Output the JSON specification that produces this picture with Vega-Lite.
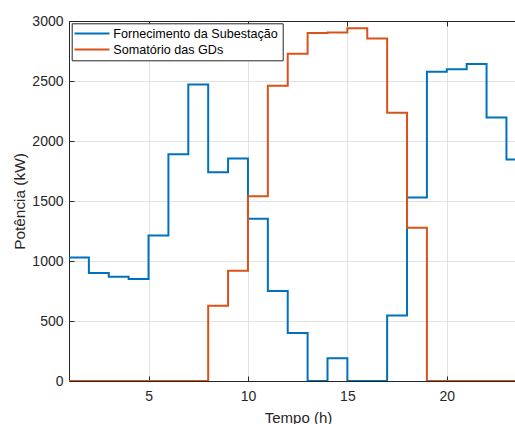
{
  "$schema": "https://vega.github.io/schema/vega-lite/v6.json",
  "width": 446,
  "height": 360,
  "autosize": {"type": "none"},
  "padding": {"left": 69, "top": 21, "right": 0, "bottom": 43},
  "background": "white",
  "config": {"font": "Liberation Sans", "view": {"stroke": null}},
  "data": {
    "values": [
      {"hora": 1, "serie": "Fornecimento da Subestação", "potencia": 1030},
      {"hora": 2, "serie": "Fornecimento da Subestação", "potencia": 900},
      {"hora": 3, "serie": "Fornecimento da Subestação", "potencia": 868},
      {"hora": 4, "serie": "Fornecimento da Subestação", "potencia": 850},
      {"hora": 5, "serie": "Fornecimento da Subestação", "potencia": 1213},
      {"hora": 6, "serie": "Fornecimento da Subestação", "potencia": 1890},
      {"hora": 7, "serie": "Fornecimento da Subestação", "potencia": 2470},
      {"hora": 8, "serie": "Fornecimento da Subestação", "potencia": 1740},
      {"hora": 9, "serie": "Fornecimento da Subestação", "potencia": 1855},
      {"hora": 10, "serie": "Fornecimento da Subestação", "potencia": 1352},
      {"hora": 11, "serie": "Fornecimento da Subestação", "potencia": 750},
      {"hora": 12, "serie": "Fornecimento da Subestação", "potencia": 400},
      {"hora": 13, "serie": "Fornecimento da Subestação", "potencia": 0},
      {"hora": 14, "serie": "Fornecimento da Subestação", "potencia": 190},
      {"hora": 15, "serie": "Fornecimento da Subestação", "potencia": 0},
      {"hora": 16, "serie": "Fornecimento da Subestação", "potencia": 0},
      {"hora": 17, "serie": "Fornecimento da Subestação", "potencia": 545},
      {"hora": 18, "serie": "Fornecimento da Subestação", "potencia": 1530},
      {"hora": 19, "serie": "Fornecimento da Subestação", "potencia": 2578},
      {"hora": 20, "serie": "Fornecimento da Subestação", "potencia": 2598},
      {"hora": 21, "serie": "Fornecimento da Subestação", "potencia": 2642},
      {"hora": 22, "serie": "Fornecimento da Subestação", "potencia": 2196},
      {"hora": 23, "serie": "Fornecimento da Subestação", "potencia": 1846},
      {"hora": 24, "serie": "Fornecimento da Subestação", "potencia": 1846},
      {"hora": 1, "serie": "Somatório das GDs", "potencia": 0},
      {"hora": 2, "serie": "Somatório das GDs", "potencia": 0},
      {"hora": 3, "serie": "Somatório das GDs", "potencia": 0},
      {"hora": 4, "serie": "Somatório das GDs", "potencia": 0},
      {"hora": 5, "serie": "Somatório das GDs", "potencia": 0},
      {"hora": 6, "serie": "Somatório das GDs", "potencia": 0},
      {"hora": 7, "serie": "Somatório das GDs", "potencia": 0},
      {"hora": 8, "serie": "Somatório das GDs", "potencia": 628},
      {"hora": 9, "serie": "Somatório das GDs", "potencia": 919},
      {"hora": 10, "serie": "Somatório das GDs", "potencia": 1539},
      {"hora": 11, "serie": "Somatório das GDs", "potencia": 2460},
      {"hora": 12, "serie": "Somatório das GDs", "potencia": 2727},
      {"hora": 13, "serie": "Somatório das GDs", "potencia": 2900},
      {"hora": 14, "serie": "Somatório das GDs", "potencia": 2905},
      {"hora": 15, "serie": "Somatório das GDs", "potencia": 2940},
      {"hora": 16, "serie": "Somatório das GDs", "potencia": 2855},
      {"hora": 17, "serie": "Somatório das GDs", "potencia": 2236},
      {"hora": 18, "serie": "Somatório das GDs", "potencia": 1278},
      {"hora": 19, "serie": "Somatório das GDs", "potencia": 0},
      {"hora": 20, "serie": "Somatório das GDs", "potencia": 0},
      {"hora": 21, "serie": "Somatório das GDs", "potencia": 0},
      {"hora": 22, "serie": "Somatório das GDs", "potencia": 0},
      {"hora": 23, "serie": "Somatório das GDs", "potencia": 0},
      {"hora": 24, "serie": "Somatório das GDs", "potencia": 0}
    ]
  },
  "layer": [
    {
      "mark": {"type": "line", "interpolate": "step-after", "clip": true, "strokeWidth": 2, "strokeJoin": "miter"},
      "encoding": {
        "x": {
          "field": "hora", "type": "quantitative",
          "scale": {"domain": [1, 23.43], "nice": false, "zero": false},
          "axis": {
            "values": [5, 10, 15, 20], "title": "Tempo (h)", "orient": "bottom",
            "labelFontSize": 14, "labelColor": "#262626", "labelPadding": 13,
            "tickSize": -5, "tickColor": "#262626", "domainColor": "#262626",
            "gridColor": "#e3e3e3", "grid": true,
            "titleFontSize": 15, "titleFontWeight": "normal", "titleColor": "#262626",
            "titleX": 229, "titleY": 41, "titleBaseline": "alphabetic", "titleAlign": "center", "titleAnchor": null
          }
        },
        "y": {
          "field": "potencia", "type": "quantitative",
          "scale": {"domain": [0, 3000], "nice": false},
          "axis": {
            "values": [0, 500, 1000, 1500, 2000, 2500, 3000], "format": "d", "title": "Potência (kW)",
            "labelFontSize": 14, "labelColor": "#262626", "labelPadding": 11,
            "tickSize": -5, "tickColor": "#262626", "domainColor": "#262626",
            "gridColor": "#e3e3e3", "grid": true,
            "titleFontSize": 15.4, "titleFontWeight": "normal", "titleColor": "#262626",
            "titleX": -50, "titleBaseline": "middle"
          }
        },
        "color": {
          "field": "serie", "type": "nominal",
          "scale": {"domain": ["Fornecimento da Subestação", "Somatório das GDs"], "range": ["#0072BD", "#D95319"]},
          "legend": {
            "title": null, "orient": "none", "legendX": 2.7, "legendY": 2.3, "direction": "vertical",
            "symbolType": "M-3.5,0H3.5", "symbolSize": 100, "symbolStrokeWidth": 2, "symbolOffset": 10,
            "labelFontSize": 12.6, "labelColor": "#000000", "labelOffset": 15, "labelLimit": 0,
            "strokeColor": "#262626", "fillColor": "white", "padding": 4, "rowPadding": 3, "cornerRadius": 0
          }
        }
      }
    },
    {
      "mark": {"type": "rule", "opacity": 0},
      "encoding": {
        "x": {
          "field": "hora", "type": "quantitative",
          "axis": {
            "orient": "top", "values": [5, 10, 15, 20], "labels": false, "title": null, "grid": false,
            "tickSize": -5, "tickColor": "#262626", "domainColor": "#262626"
          }
        }
      }
    }
  ],
  "resolve": {"axis": {"x": "independent"}}
}
